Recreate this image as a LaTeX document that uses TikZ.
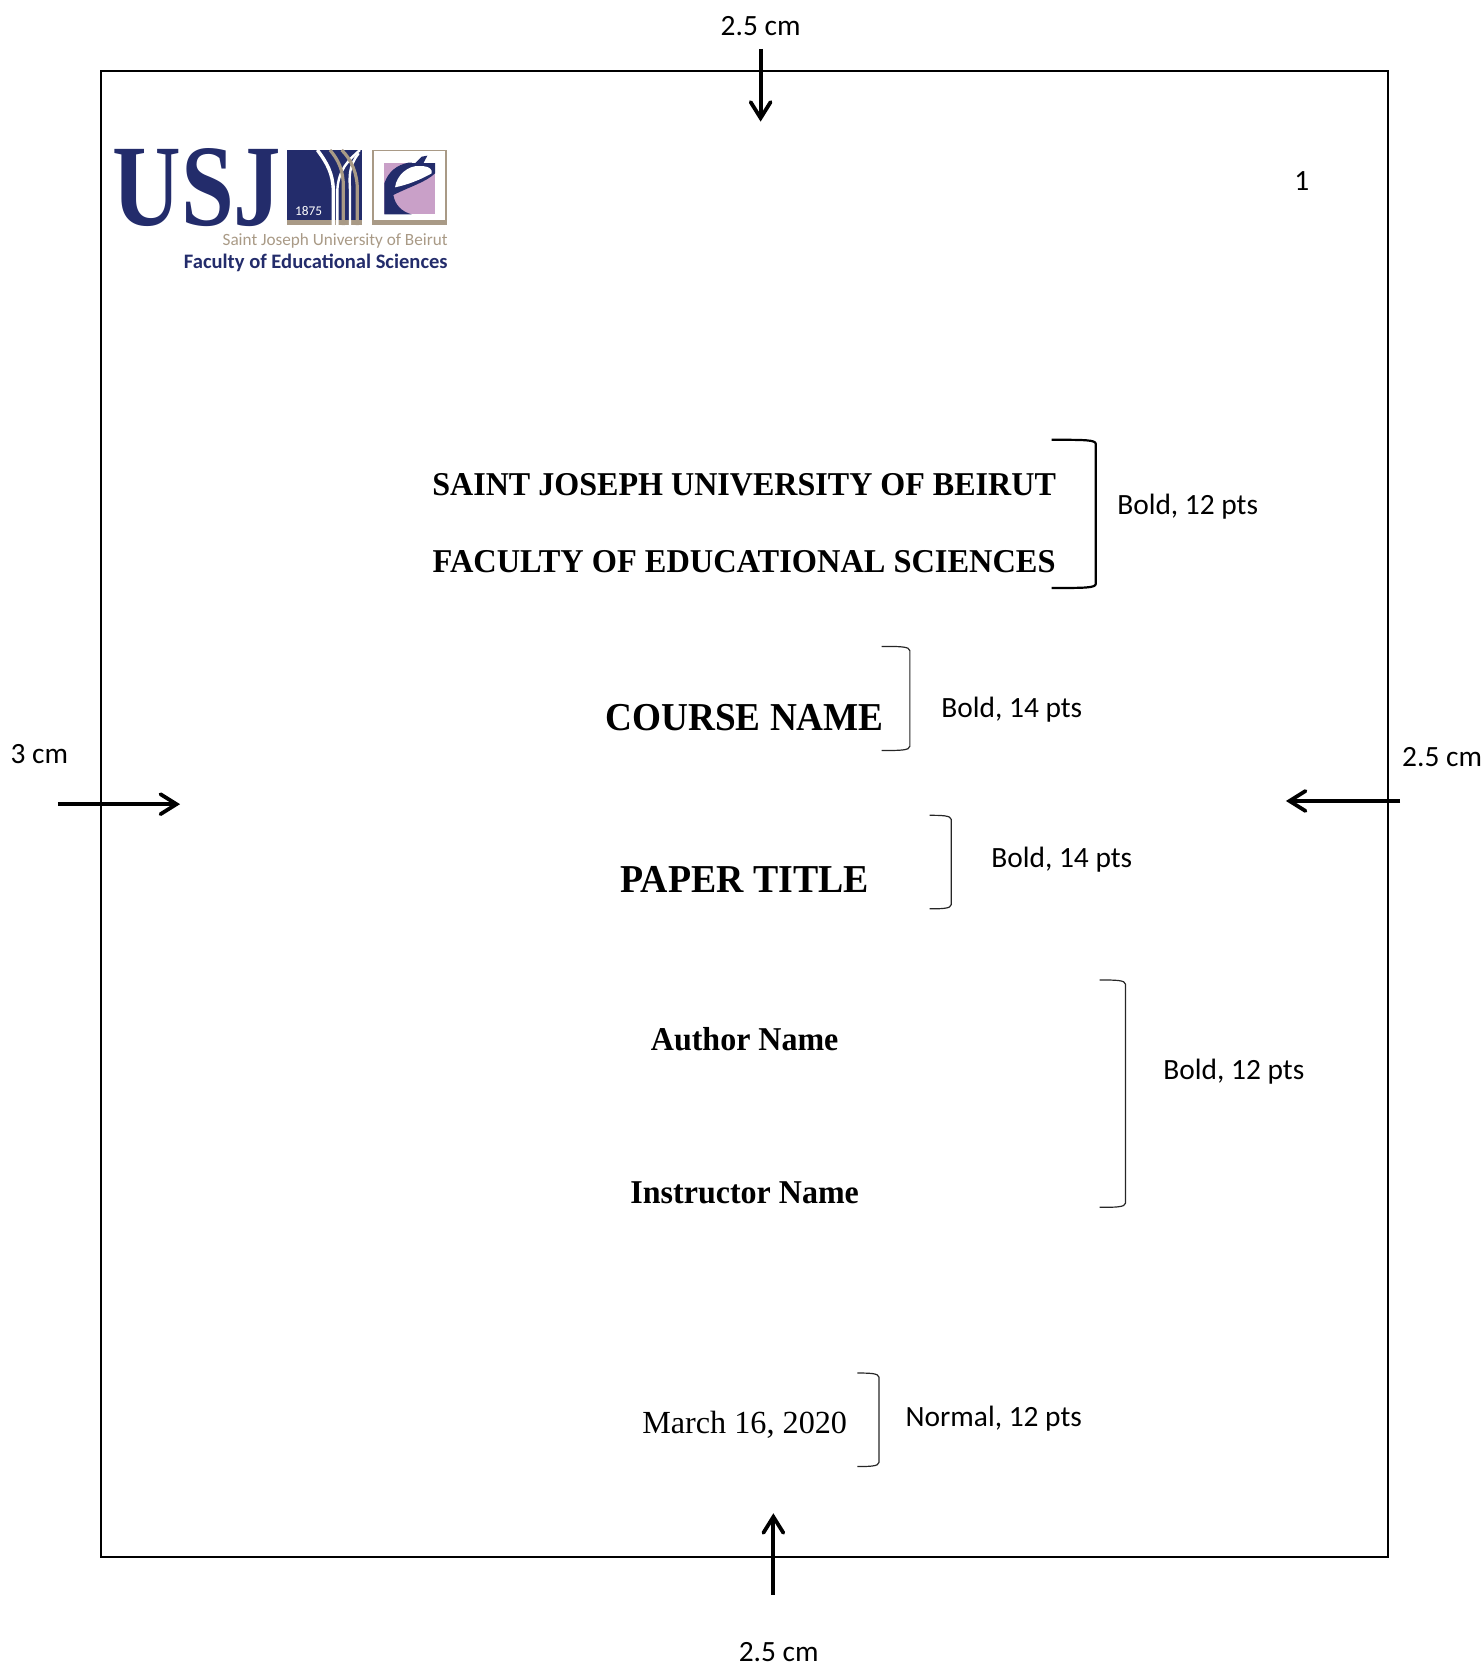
\documentclass[tikz,border=0pt]{standalone}
\usepackage{fontspec}
\setmainfont{Liberation Serif}
\newfontfamily\lblfont{Carlito}
\usetikzlibrary{arrows.meta}
\definecolor{usjnavy}{HTML}{232C6B}
\definecolor{usjtan}{HTML}{A99A86}
\definecolor{usjpink}{HTML}{C9A0C8}
\tikzset{
  page/.style={draw=black,line width=1pt},
  marginarrow/.style={draw=black,line width=1.9pt,-{Straight Barb[length=8pt,width=10pt,line cap=round]}},
  note/.style={font=\lblfont\fontsize{14.7}{16}\selectfont,anchor=base,inner sep=0pt},
  headtwelve/.style={font=\bfseries\fontsize{16}{18}\selectfont,anchor=base,inner sep=0pt},
  headfourteen/.style={font=\bfseries\fontsize{19}{21}\selectfont,anchor=base,inner sep=0pt},
  datetext/.style={font=\fontsize{16.1}{18}\selectfont,anchor=base,inner sep=0pt},
  thinbracket/.style={draw=black!85,line width=.6pt},
  thickbracket/.style={draw=black,line width=1.1pt},
}
\newcommand{\sidebracket}[5]{% style, x0, x1, y0, y1
  \draw[#1] (#2,#4) .. controls (#3-10,#4) and (#3,#4) .. (#3,#4+4) -- (#3,#5-4) .. controls (#3,#5) and (#3-10,#5) .. (#2,#5);}
\begin{document}
\begin{tikzpicture}[x=.53115pt,y=-.53115pt]
\useasboundingbox (0,0) rectangle (1396.03,1566.4);
% page frame
\draw[page] (95,67) rectangle (1307,1465.4);
% margin labels
\node[note] (topl) at (716,33.5) {2.5 cm};
\node[note] (leftl) at (37,719) {3 cm};
\node[note] (rightl) at (1357.5,722) {2.5 cm};
\node[note] (botl) at (733,1564) {2.5 cm};
\node[note] (pageno) at (1225.5,179) {1};
% margin arrows
\coordinate (ta) at (716,46); \coordinate (tb) at (716,114.5);
\coordinate (la) at (54.5,757); \coordinate (lb) at (169.5,757);
\coordinate (ra) at (1318,754); \coordinate (rb) at (1210.5,754);
\coordinate (ba) at (728,1501); \coordinate (bb) at (728,1424.5);
\draw[marginarrow] (ta) -- (tb);
\draw[marginarrow] (la) -- (lb);
\draw[marginarrow] (ra) -- (rb);
\draw[marginarrow] (ba) -- (bb);
% headings
\node[headtwelve] (uni) at (700.5,466.5) {\scalebox{1.002}[1.04]{SAINT JOSEPH UNIVERSITY OF BEIRUT}};
\node[headtwelve] (fac) at (700.5,538.5) {\scalebox{1.012}[1.04]{FACULTY OF EDUCATIONAL SCIENCES}};
\node[headfourteen] (course) at (701,688) {\scalebox{.98}[1.04]{COURSE NAME}};
\node[headfourteen] (paper) at (701,840) {\scalebox{.995}[1.04]{PAPER TITLE}};
\node[headtwelve] (author) at (701,988.5) {\scalebox{1}[1.04]{Author Name}};
\node[headtwelve] (instr) at (701,1132.5) {\scalebox{1}[1.04]{Instructor Name}};
\node[datetext] (date) at (701,1349) {March 16, 2020};
% brackets
\sidebracket{thickbracket}{990}{1031.5}{414}{553.5}
\sidebracket{thinbracket}{830}{856.5}{608.5}{706.5}
\sidebracket{thinbracket}{875}{895.5}{767.5}{855.5}
\sidebracket{thinbracket}{1035}{1059.5}{922.5}{1136.5}
\sidebracket{thinbracket}{807}{827.5}{1292.5}{1380.5}
% bracket notes
\node[note] (n1) at (1118,484.5) {Bold, 12 pts};
\node[note] (n2) at (952.5,675.5) {Bold, 14 pts};
\node[note] (n3) at (999.5,816.5) {Bold, 14 pts};
\node[note] (n4) at (1161.5,1016.5) {Bold, 12 pts};
\node[note] (n5) at (935.5,1342.5) {Normal, 12 pts};
% logo text
\begin{scope}[shift={(45pt,-65pt)},x=.16667pt,y=-.16667pt]
  \node[inner sep=0pt,text=usjnavy] (usj) at (321,172) {\resizebox{84.5pt}{38.5pt}{\bfseries USJ}};
  \node[inner sep=0pt,anchor=base east,text=usjtan] (lg1) at (1074,345) {\resizebox{112.5pt}{!}{\lblfont Saint Joseph University of Beirut}};
  \node[inner sep=0pt,anchor=base east,text=usjnavy] (lg2) at (1074,414) {\resizebox{131.8pt}{!}{\lblfont\bfseries Faculty of Educational Sciences}};
\end{scope}
% logo marks
\begin{scope}[shift={(140pt,-70pt)},x=.16667pt,y=-.16667pt]
  \fill[usjnavy] (20,30) rectangle (247,240);
  \fill[usjtan] (20,240) rectangle (247,255);
  \draw[white,line width=1.7pt] (112,30) .. controls (142,70) and (158,100) .. (160,150) -- (160,255);
  \draw[white,line width=1.2pt] (240,30) .. controls (205,60) and (175,90) .. (172,150) -- (172,255);
  \draw[white,line width=1.2pt] (236,40) .. controls (205,80) and (208,110) .. (210,150) -- (210,255);
  \draw[usjtan,line width=1.6pt] (150,30) .. controls (175,60) and (190,90) .. (190,140) -- (190,255);
  \draw[usjtan,line width=1.6pt] (185,30) .. controls (215,60) and (232,100) .. (232,150) -- (232,255);
  \node[inner sep=0pt,text=white] (yr) at (86,212) {\resizebox{13.5pt}{!}{\lblfont 1875}};
  \draw[usjtan,line width=.8pt] (279,32) rectangle (498,253);
  \fill[usjtan] (277,240) rectangle (500,255);
  \fill[usjpink] (313,68) rectangle (465,223);
  \fill[usjnavy] (313,223) -- (313,130) .. controls (325,95) and (350,75) .. (385,68) -- (465,68) -- (465,100) .. controls (440,125) and (390,140) .. (340,165) .. controls (345,195) and (365,215) .. (395,223) -- cycle;
  \fill[white] (345,142) .. controls (350,105) and (385,75) .. (420,78) .. controls (450,78) and (458,90) .. (455,100) .. controls (420,120) and (380,135) .. (345,142) -- cycle;
  \fill[white] (395,60) rectangle (470,68);
  \fill[usjnavy] (403,72) -- (425,50) -- (442,47) -- (430,70) -- cycle;
\end{scope}
\end{tikzpicture}
\end{document}
